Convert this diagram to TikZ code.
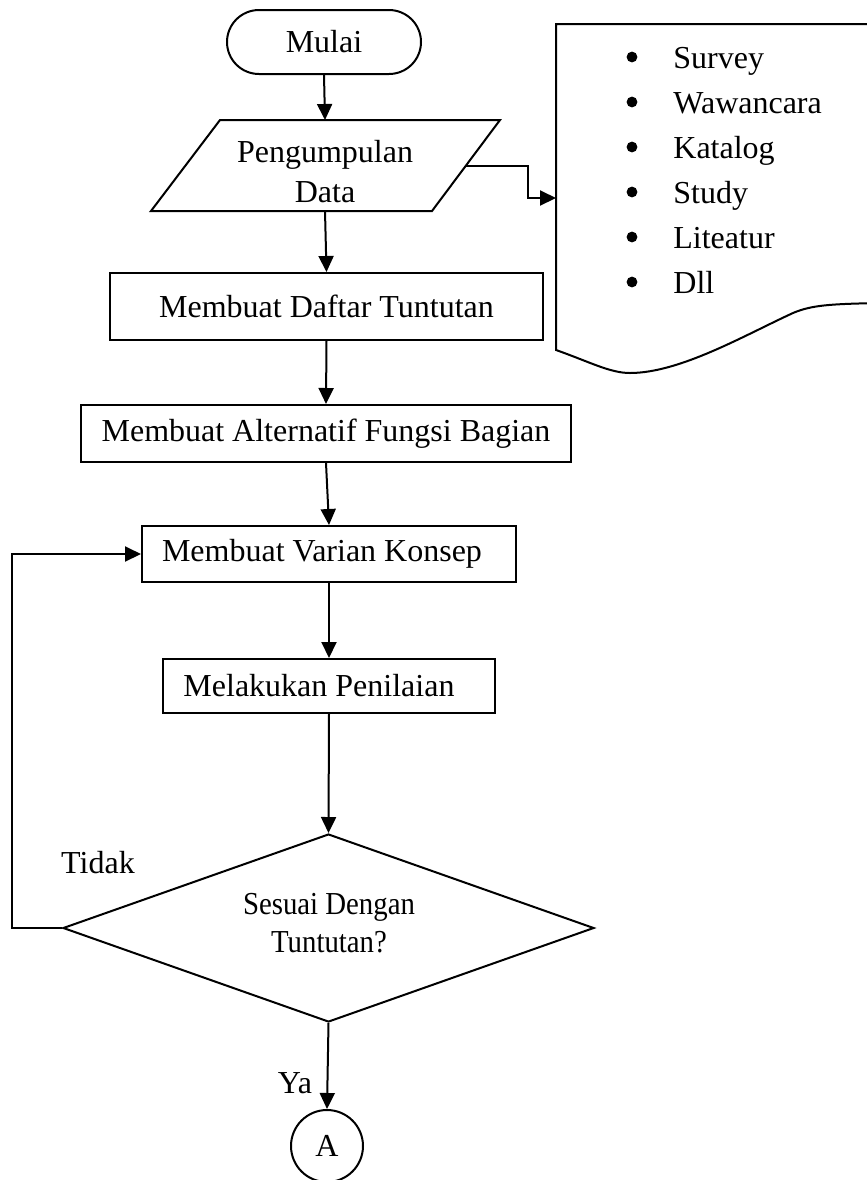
\documentclass[tikz,border=0pt]{standalone}
\usepackage{fontspec}
\setmainfont{Liberation Serif}
\newfontfamily\condserif[FakeStretch=0.9]{Liberation Serif}
\usetikzlibrary{shapes.geometric,shapes.misc,arrows.meta,calc}

\newcommand{\lowered}[1]{\raisebox{-1.5pt}{#1}}

\begin{document}
\begin{tikzpicture}[x=0.5pt,y=-0.5pt,
  every node/.style={font=\fontsize{16pt}{20pt}\selectfont},
  ln/.style={line width=1pt},
  procbox/.style={draw, rectangle, line width=1pt, inner sep=0pt},
  arr/.style={line width=1pt, -{Triangle[length=8pt,width=7.5pt]}},
  bullet/.style={circle, fill, inner sep=0pt, minimum size=5.4pt},
]
\fill[white] (0,0) rectangle (867,1180);
\clip (0,0) rectangle (867,1180);

% start terminator
\node[draw, rounded rectangle, line width=1pt, minimum width=97pt,
      minimum height=32pt, inner sep=0pt] (mulai) at (324,42) {\raisebox{-2pt}{Mulai}};

% data input (parallelogram)
\coordinate (pTL) at (220,120);
\coordinate (pTR) at (500,120);
\coordinate (pBR) at (432,211);
\coordinate (pBL) at (151,211);
\draw[ln, line join=miter] (pTL) -- (pTR) -- (pBR) -- (pBL) -- cycle;
\coordinate (pN) at (325,120);
\coordinate (pS) at (325,211);
\coordinate (pE) at ($(pTR)!0.5!(pBR)$);
\node[align=center, inner sep=0pt] (data) at (325,172) {Pengumpulan\\Data};

% process steps
\node[procbox, minimum width=216.5pt, minimum height=33.5pt] (daftar) at (326.5,306.5)
  {\lowered{Membuat Daftar Tuntutan}};
\node[procbox, minimum width=245pt, minimum height=28.5pt] (alt) at (326,433.5)
  {\lowered{Membuat Alternatif Fungsi Bagian}};
\node[procbox, minimum width=187pt, minimum height=28pt] (varian) at (329,554)
  {\lowered{Membuat Varian Konsep}\hspace*{7pt}};
\node[procbox, minimum width=166pt, minimum height=27pt] (nilai) at (329,686)
  {\lowered{Melakukan Penilaian}\hspace*{10pt}};

% decision
\node[draw, diamond, line width=1pt, minimum width=265.5pt, minimum height=94pt,
      inner sep=0pt, shape aspect=2.8] (cek) at (328.5,928) {};
\node[align=center, inner sep=0pt, font=\condserif\fontsize{16pt}{19pt}\selectfont]
  (cektxt) at (329,923) {Sesuai Dengan\\Tuntutan?};

% connector
\node[draw, circle, line width=1pt, minimum size=36pt, inner sep=0pt] (A) at (327,1146) {\raisebox{-1pt}{A}};

% branch labels
\node (tidak) at (98,863) {Tidak};
\node (ya) at (295,1083) {Ya};

% document with the list of data sources
\draw[ln] (880,24) -- (556,24) -- (556,350)
  .. controls (590,362) and (610,373) .. (630,373)
  .. controls (680,373) and (745,335) .. (793,313)
  .. controls (812,305) and (830,304) .. (880,303);
\coordinate (docin) at (556,198);
\foreach \t [count=\i from 0] in {Survey,Wawancara,Katalog,Study,Liteatur,Dll} {
  \node[bullet] (b\i) at (632,{57+45*\i}) {};
  \node[anchor=base west, inner sep=0pt] (it\i) at (673,{68+45*\i}) {\t};
}

% flow connectors
\draw[arr] (mulai.south) -- (pN);
\draw[arr] (pS) -- (daftar.north);
\draw[arr] (daftar.south) -- (alt.north);
\draw[arr] (alt.south) -- (varian.north);
\draw[arr] (varian.south) -- (nilai.north);
\draw[arr] (nilai.south) -- (cek.north);
\draw[arr] (cek.south) -- (A.north);
\draw[arr] (cek.west) -- ++(-50,0) |- (varian.west);
\draw[arr] (pE) -- ++(62,0) |- (docin);
\end{tikzpicture}
\end{document}
